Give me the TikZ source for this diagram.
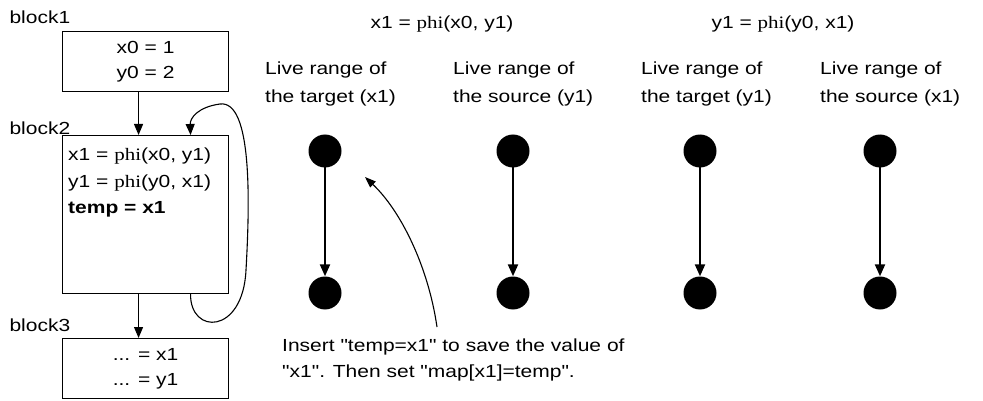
\documentclass[tikz,border=0pt]{standalone}
\usepackage{fontspec}
\setmainfont{Liberation Sans}[FakeStretch=1.2, Ligatures=TeXOff]
\newfontfamily\phifont{Liberation Serif}[FakeStretch=1.2]
\usetikzlibrary{arrows.meta, positioning}
\newcommand{\phiop}{{\phifont phi}}
\tikzset{
  blockBox/.style={draw, line width=1.1pt, minimum width=166pt, anchor=north west,
    inner sep=0pt},
  blockName/.style={anchor=west},
  codeText/.style={align=left, anchor=north west, inner sep=0pt},
  rangeTitle/.style={align=left, anchor=west, inner sep=0pt},
  varDot/.style={circle, fill=black, minimum size=33pt, inner sep=0pt},
  flowArrow/.style={-{Triangle[length=11pt, width=9pt]}, line width=1.1pt},
  rangeArrow/.style={-{Triangle[length=12pt, width=10pt]}, line width=2.2pt, shorten <=-2pt},
  noteArrow/.style={-{Triangle[length=11pt, width=8pt]}, line width=1.1pt},
}
\begin{document}
\begin{tikzpicture}[x=1pt, y=-1pt, font=\fontsize{17.5}{25}\selectfont]
  \useasboundingbox (0,0) rectangle (983,401);

  % the three blocks
  \node[blockName] (n1) at (6,17) {block1};
  \node[blockBox, minimum height=60pt, align=center] (b1) at (62,31) {x0 = 1\\y0 = 2};
  \node[blockName] (n2) at (6,128) {block2};
  \node[blockBox, minimum height=158pt] (b2) at (62,135) {};
  \node[codeText, font=\fontsize{17.5}{26.5}\selectfont] (code) at (68,148)
    {x1 = \phiop(x0, y1)\\y1 = \phiop(y0, x1)\\\textbf{temp = x1}};
  \node[blockName] (n3) at (6,325) {block3};
  \node[blockBox, minimum height=60pt, align=center] (b3) at (62,338) {... = x1\\... = y1};

  \draw[flowArrow] ([xshift=-7pt]b1.south) -- ([xshift=-7pt]b2.north);
  \draw[flowArrow] ([xshift=-7pt]b2.south) -- ([xshift=-7pt]b3.north);
  \draw[flowArrow] ([xshift=45pt]b2.south) .. controls (190,335) and (243,335) .. (246,270)
    .. controls (250,200) and (252,100) .. (220,104)
    .. controls (198,107) and (190,118) .. ([xshift=45pt]b2.north);

  % phi instructions
  \node (phiX) at (442,24) {x1 = \phiop(x0, y1)};
  \node (phiY) at (783,24) {y1 = \phiop(y0, x1)};

  % live ranges
  \node[rangeTitle, font=\fontsize{17.5}{28}\selectfont] (r1) at (265,84) {Live range of\\the target (x1)};
  \node[rangeTitle, font=\fontsize{17.5}{28}\selectfont] (r2) at (453,84) {Live range of\\the source (y1)};
  \node[rangeTitle, font=\fontsize{17.5}{28}\selectfont] (r3) at (641,84) {Live range of\\the target (y1)};
  \node[rangeTitle, font=\fontsize{17.5}{28}\selectfont] (r4) at (820,84) {Live range of\\the source (x1)};

  \foreach \c/\x in {1/325, 2/513, 3/700, 4/880} {
    \node[varDot] (top\c) at (\x,151) {};
    \node[varDot] (bot\c) at (\x,293) {};
    \draw[rangeArrow] (top\c) -- (bot\c);
  }

  % note
  \node[rangeTitle, font=\fontsize{17.5}{26}\selectfont] (note) at (282,360)
    {Insert "temp=x1" to save the value of\\"x1". Then set "map[x1]=temp".};
  \coordinate (aim) at (365,177);
  \draw[noteArrow] (437,327) .. controls (428,265) and (400,210) .. (aim);
\end{tikzpicture}
\end{document}
